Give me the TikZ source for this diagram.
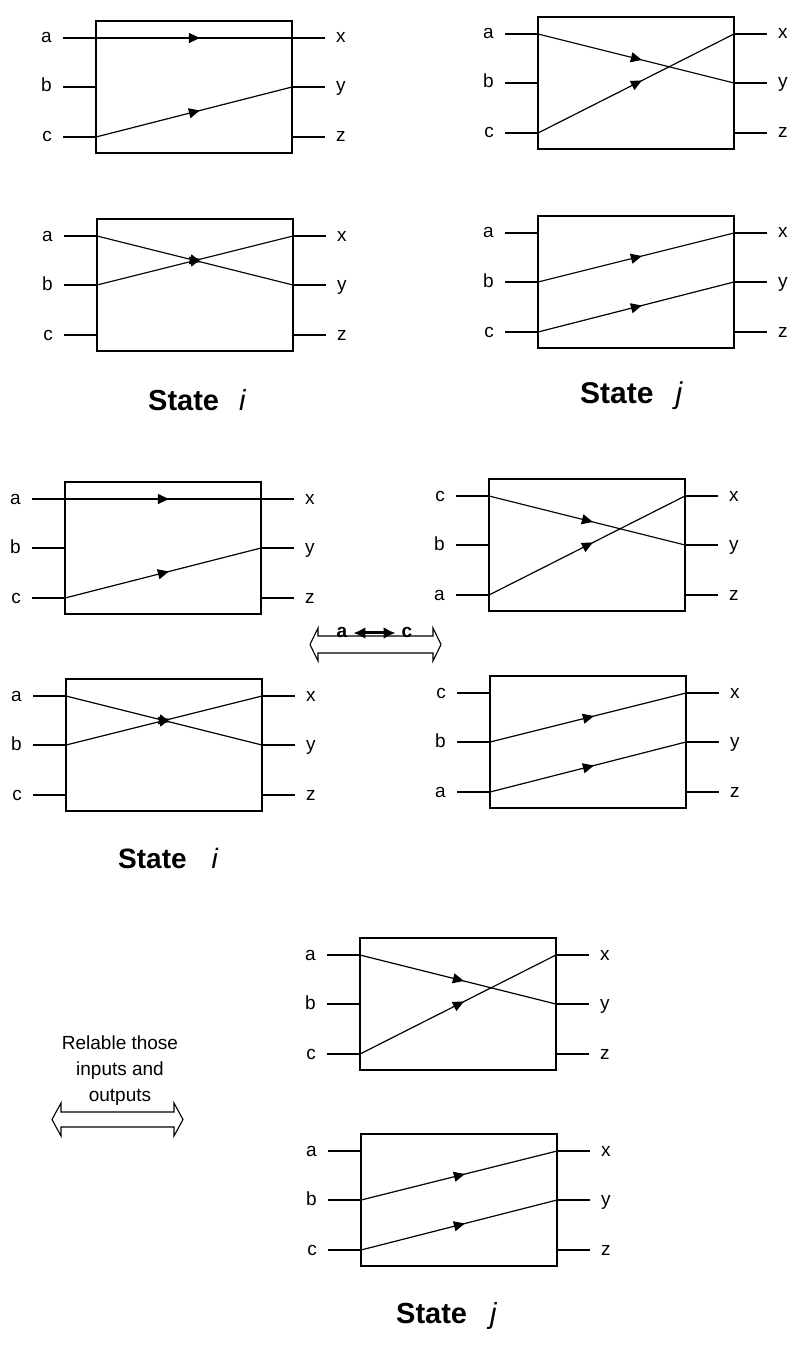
\documentclass[tikz,border=0pt]{standalone}
\usepackage{fontspec}
\setmainfont{Liberation Sans}
\usetikzlibrary{arrows.meta,decorations.markings}
\tikzset{
  boxst/.style={draw, line width=1.1pt, minimum width=196pt, minimum height=132pt, inner sep=0pt, outer sep=0pt, anchor=north west},
  stub/.style={line width=1.1pt},
  flow/.style={line width=1.2pt, postaction={decorate},
    decoration={markings, mark=at position 0.53 with {\arrow{Triangle[length=11pt,width=10pt]}}}},
  lbl/.style={font=\fontsize{19}{19}\selectfont, inner sep=0pt},
  statelbl/.style={inner sep=0pt, anchor=base west},
  hollow/.style={draw, line width=1.1pt, fill=white, line join=miter},
}
\newcommand\blk[6]{%
  \node[boxst] (#1) at (#2,#3) {};
  \coordinate (#1-i1) at (#2,{#3+17});
  \coordinate (#1-i2) at (#2,{#3+66});
  \coordinate (#1-i3) at (#2,{#3+116});
  \coordinate (#1-o1) at ({#2+196},{#3+17});
  \coordinate (#1-o2) at ({#2+196},{#3+66});
  \coordinate (#1-o3) at ({#2+196},{#3+116});
  \coordinate (#1-e1) at ({#2-33},{#3+17});
  \coordinate (#1-e2) at ({#2-33},{#3+66});
  \coordinate (#1-e3) at ({#2-33},{#3+116});
  \coordinate (#1-f1) at ({#2+229},{#3+17});
  \coordinate (#1-f2) at ({#2+229},{#3+66});
  \coordinate (#1-f3) at ({#2+229},{#3+116});
  \draw[stub] (#1-e1) -- (#1-i1);
  \draw[stub] (#1-e2) -- (#1-i2);
  \draw[stub] (#1-e3) -- (#1-i3);
  \draw[stub] (#1-o1) -- (#1-f1);
  \draw[stub] (#1-o2) -- (#1-f2);
  \draw[stub] (#1-o3) -- (#1-f3);
  \node[lbl, anchor=base east] (#1-l1) at ({#2-44},{#3+22}) {#4};
  \node[lbl, anchor=base east] (#1-l2) at ({#2-44},{#3+71}) {#5};
  \node[lbl, anchor=base east] (#1-l3) at ({#2-44},{#3+121}) {#6};
  \node[lbl, anchor=base west] (#1-r1) at ({#2+240},{#3+22}) {x};
  \node[lbl, anchor=base west] (#1-r2) at ({#2+240},{#3+71}) {y};
  \node[lbl, anchor=base west] (#1-r3) at ({#2+240},{#3+121}) {z};
}
\begin{document}
\begin{tikzpicture}[x=1pt,y=-1pt]
\useasboundingbox (0,0) rectangle (799,1348);
\fill[white] (0,0) rectangle (799,1348);

% top row, state i
\blk{b1}{96}{21}{a}{b}{c}
\draw[flow] (b1-i1) -- (b1-o1);
\draw[flow] (b1-i3) -- (b1-o2);
\blk{b3}{97}{219}{a}{b}{c}
\draw[flow] (b3-i1) -- (b3-o2);
\draw[flow] (b3-i2) -- (b3-o1);
\node[statelbl, font=\fontsize{29}{29}\selectfont] (st1) at (148,410) {\textbf{State}\hspace{20pt}\textit{i}};

% top row, state j
\blk{b2}{538}{17}{a}{b}{c}
\draw[flow] (b2-i1) -- (b2-o2);
\draw[flow] (b2-i3) -- (b2-o1);
\blk{b4}{538}{216}{a}{b}{c}
\draw[flow] (b4-i2) -- (b4-o1);
\draw[flow] (b4-i3) -- (b4-o2);
\node[statelbl, font=\fontsize{30}{30}\selectfont] (st2) at (580,403) {\textbf{State}\hspace{22pt}\textit{j}};

% middle row
\blk{b5}{65}{482}{a}{b}{c}
\draw[flow] (b5-i1) -- (b5-o1);
\draw[flow] (b5-i3) -- (b5-o2);
\blk{b7}{66}{679}{a}{b}{c}
\draw[flow] (b7-i1) -- (b7-o2);
\draw[flow] (b7-i2) -- (b7-o1);
\node[statelbl, font=\fontsize{28}{28}\selectfont] (st3) at (118,868) {\textbf{State}\hspace{25pt}\textit{i}};

\blk{b6}{489}{479}{c}{b}{a}
\draw[flow] (b6-i1) -- (b6-o2);
\draw[flow] (b6-i3) -- (b6-o1);
\blk{b8}{490}{676}{c}{b}{a}
\draw[flow] (b8-i2) -- (b8-o1);
\draw[flow] (b8-i3) -- (b8-o2);

% middle swap arrow
\draw[hollow] (310,644.5) -- (318,628) -- (318,636) -- (433,636) -- (433,628) -- (441,644.5)
  -- (433,661) -- (433,653) -- (318,653) -- (318,661) -- cycle;
\node[lbl, font=\fontsize{19}{19}\selectfont\bfseries, anchor=base] (sa) at (342,637) {a};
\node[lbl, font=\fontsize{19}{19}\selectfont\bfseries, anchor=base] (sc) at (407,637) {c};
\draw[line width=3pt, {Latex[length=12pt,width=12pt]}-{Latex[length=12pt,width=12pt]}] ([xshift=6pt,yshift=-1pt]sa.east) -- ([xshift=-6pt,yshift=-1pt]sc.west);

% bottom
\blk{b9}{360}{938}{a}{b}{c}
\draw[flow] (b9-i1) -- (b9-o2);
\draw[flow] (b9-i3) -- (b9-o1);
\blk{b10}{361}{1134}{a}{b}{c}
\draw[flow] (b10-i2) -- (b10-o1);
\draw[flow] (b10-i3) -- (b10-o2);
\node[statelbl, font=\fontsize{29}{29}\selectfont] (st4) at (396,1323) {\textbf{State}\hspace{23pt}\textit{j}};

% relabel note
\node[font=\fontsize{19}{26}\selectfont, align=center, inner sep=0pt] (rel) at (120,1071) {Relable those\\inputs and\\outputs};
\draw[hollow] (52,1119.5) -- (61,1103) -- (61,1112) -- (174,1112) -- (174,1103) -- (183,1119.5)
  -- (174,1136) -- (174,1127) -- (61,1127) -- (61,1136) -- cycle;
\end{tikzpicture}
\end{document}
